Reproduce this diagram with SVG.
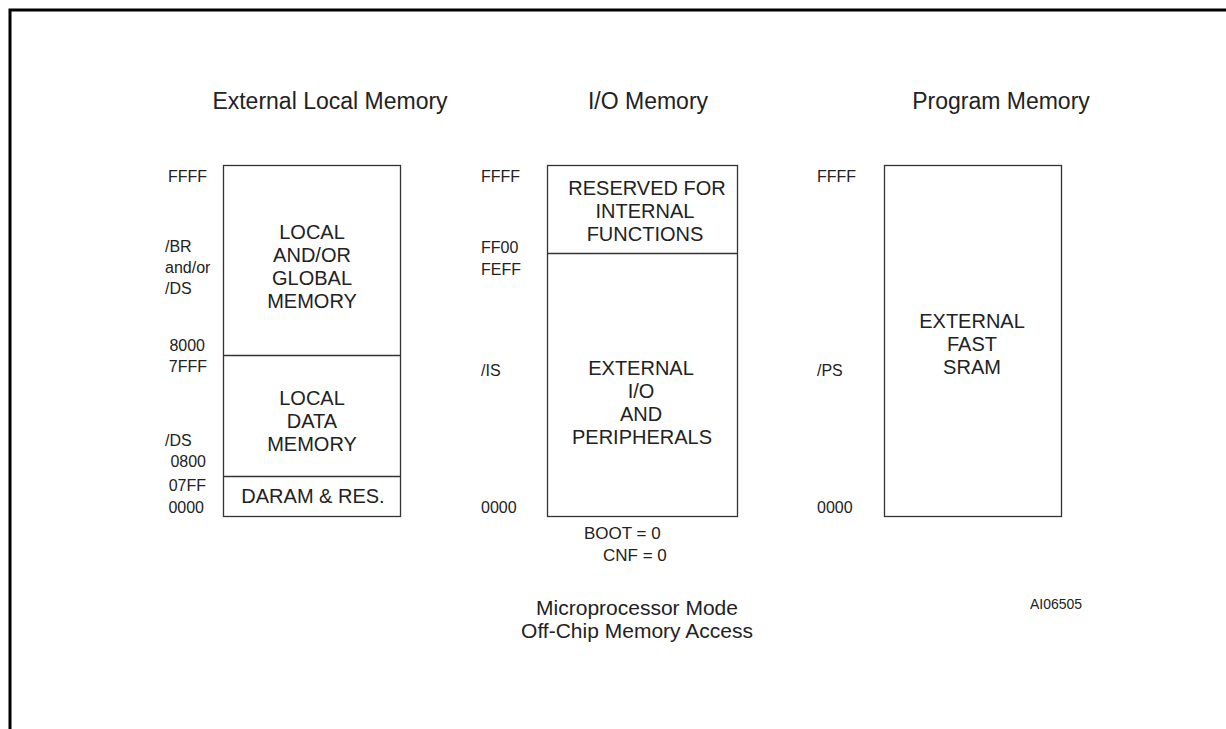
<svg xmlns="http://www.w3.org/2000/svg" width="1226" height="729" viewBox="0 0 1226 729">
<style>
text{font-family:"Liberation Sans",Arial,sans-serif;fill:#222;}
.hdr{font-size:23px;}
.box{fill:none;stroke:#333;stroke-width:1.3;}
.div{stroke:#333;stroke-width:1.3;}
.in{font-size:20px;text-anchor:middle;}
.lb{font-size:16px;}
.bt{font-size:17px;}
.cap{font-size:21px;text-anchor:middle;}
.frame{stroke:#000;stroke-width:3;fill:none;}
</style>
<rect width="1226" height="729" fill="#fff"/>
<g id="frame"><path class="frame" d="M10,729 V10 H1226"/></g>
<g id="headers">
<text class="hdr" x="330" y="109" text-anchor="middle">External Local Memory</text>
<text class="hdr" x="648" y="109" text-anchor="middle">I/O Memory</text>
<text class="hdr" x="1001" y="109" text-anchor="middle">Program Memory</text>
</g>
<g id="local-memory">
<rect class="box" x="223.5" y="165.5" width="177" height="351"/>
<line class="div" x1="223.5" y1="355.5" x2="400.5" y2="355.5"/>
<line class="div" x1="223.5" y1="476.5" x2="400.5" y2="476.5"/>
<text class="in" x="312" y="239">LOCAL</text>
<text class="in" x="312" y="262">AND/OR</text>
<text class="in" x="312" y="285">GLOBAL</text>
<text class="in" x="312" y="308">MEMORY</text>
<text class="in" x="312" y="405">LOCAL</text>
<text class="in" x="312" y="428">DATA</text>
<text class="in" x="312" y="451">MEMORY</text>
<text class="in" x="313" y="503">DARAM &amp; RES.</text>
<text class="lb" x="207" y="182" text-anchor="end">FFFF</text>
<text class="lb" x="165" y="252">/BR</text>
<text class="lb" x="165" y="273">and/or</text>
<text class="lb" x="165" y="294">/DS</text>
<text class="lb" x="205" y="351" text-anchor="end">8000</text>
<text class="lb" x="207" y="372" text-anchor="end">7FFF</text>
<text class="lb" x="165" y="446">/DS</text>
<text class="lb" x="206" y="467" text-anchor="end">0800</text>
<text class="lb" x="206" y="491" text-anchor="end">07FF</text>
<text class="lb" x="204" y="513" text-anchor="end">0000</text>
</g>
<g id="io-memory">
<rect class="box" x="547.5" y="165.5" width="190" height="351"/>
<line class="div" x1="547.5" y1="253.5" x2="737.5" y2="253.5"/>
<text class="in" x="647" y="195">RESERVED FOR</text>
<text class="in" x="645" y="218">INTERNAL</text>
<text class="in" x="645" y="241">FUNCTIONS</text>
<text class="in" x="641" y="375">EXTERNAL</text>
<text class="in" x="641" y="398">I/O</text>
<text class="in" x="641" y="421">AND</text>
<text class="in" x="642" y="444">PERIPHERALS</text>
<text class="lb" x="481" y="182">FFFF</text>
<text class="lb" x="481" y="253">FF00</text>
<text class="lb" x="481" y="275">FEFF</text>
<text class="lb" x="481" y="376">/IS</text>
<text class="lb" x="481" y="513">0000</text>
<text class="bt" x="584" y="539">BOOT = 0</text>
<text class="bt" x="603" y="561">CNF = 0</text>
</g>
<g id="program-memory">
<rect class="box" x="884.5" y="165.5" width="177" height="351"/>
<text class="in" x="972" y="328">EXTERNAL</text>
<text class="in" x="972" y="351">FAST</text>
<text class="in" x="972" y="374">SRAM</text>
<text class="lb" x="817" y="182">FFFF</text>
<text class="lb" x="817" y="376">/PS</text>
<text class="lb" x="817" y="513">0000</text>
</g>
<g id="caption">
<text class="cap" x="637" y="615">Microprocessor Mode</text>
<text class="cap" x="637" y="638">Off-Chip Memory Access</text>
<text x="1030" y="609" font-size="14">AI06505</text>
</g>
<g id="connectors"></g>
</svg>
